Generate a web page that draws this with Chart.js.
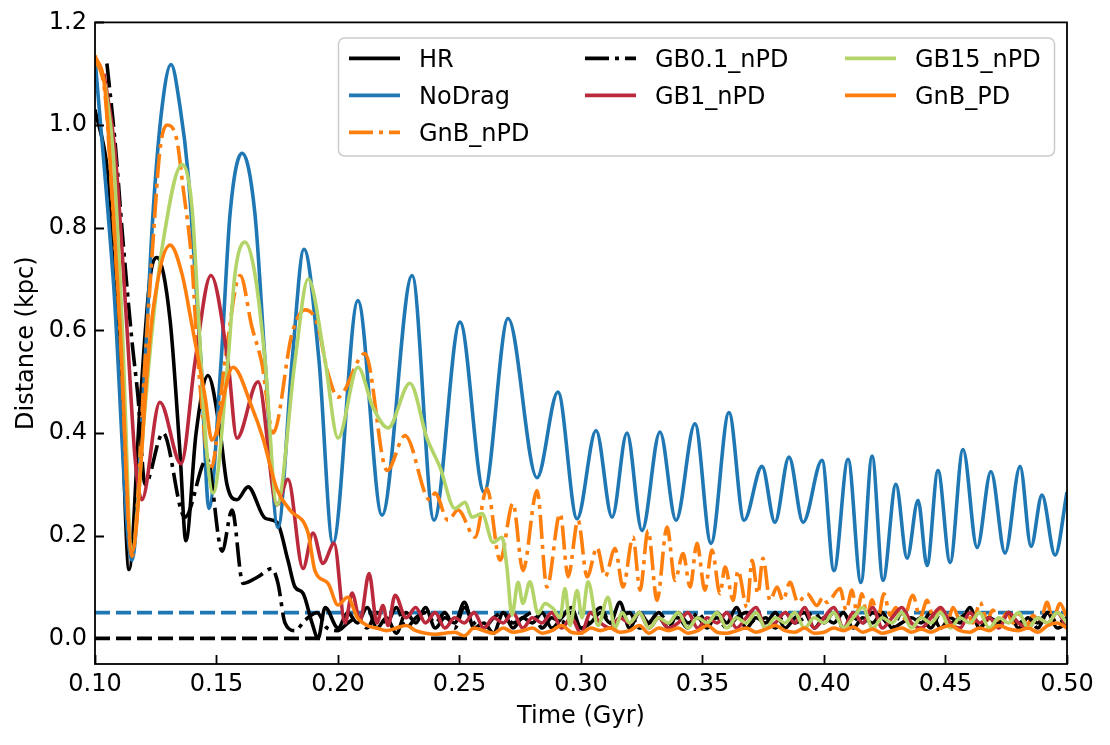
<!DOCTYPE html>
<html><head><meta charset="utf-8">
<script src="https://cdn.jsdelivr.net/npm/chart.js@4.4.0/dist/chart.umd.min.js"></script>
<style>html,body{margin:0;padding:0;background:#fff;}canvas{display:block;}</style>
</head><body>
<canvas id="c" width="1110" height="745"></canvas>
<script>
// ---------------- tick labels ----------------
const xTicks = [0.10, 0.15, 0.20, 0.25, 0.30, 0.35, 0.40, 0.45, 0.50];
const yTicks = [0.0, 0.2, 0.4, 0.6, 0.8, 1.0, 1.2];

// ---------------- series (time in Gyr, distance in kpc) ----------------
const noDragT = [0.1000, 0.1075, 0.1152, 0.1206, 0.1239, 0.1276, 0.1313, 0.1350, 0.1383, 0.1412,
  0.1436, 0.1469, 0.1519, 0.1556, 0.1605, 0.1658, 0.1700, 0.1753, 0.1811, 0.1860,
  0.1922, 0.1979, 0.2082, 0.2181, 0.2305, 0.2395, 0.2502, 0.2601, 0.2700, 0.2819,
  0.2905, 0.2984, 0.3062, 0.3128, 0.3189, 0.3251, 0.3325, 0.3391, 0.3469, 0.3535,
  0.3609, 0.3671, 0.3745, 0.3798, 0.3856, 0.3914, 0.3992, 0.4041, 0.4099, 0.4152,
  0.4198, 0.4243, 0.4296, 0.4342, 0.4387, 0.4424, 0.4469, 0.4519, 0.4572, 0.4630,
  0.4687, 0.4745, 0.4807, 0.4852, 0.4897, 0.4951, 0.5000];
const noDragD = [1.13, 0.70, 0.152, 0.54, 0.83, 1.035, 1.118, 1.035, 0.906, 0.71,
  0.54, 0.253, 0.54, 0.828, 0.945, 0.828, 0.54, 0.216, 0.54, 0.758,
  0.54, 0.185, 0.658, 0.24, 0.707, 0.23, 0.616, 0.285, 0.623, 0.313,
  0.48, 0.233, 0.405, 0.236, 0.40, 0.21, 0.402, 0.23, 0.418, 0.185,
  0.44, 0.23, 0.335, 0.226, 0.353, 0.226, 0.347, 0.132, 0.349, 0.109,
  0.355, 0.113, 0.30, 0.156, 0.269, 0.142, 0.327, 0.148, 0.368, 0.177,
  0.325, 0.166, 0.335, 0.179, 0.279, 0.162, 0.285];

const hrT = [0.1000, 0.1053, 0.1074, 0.1103, 0.1140, 0.1185, 0.1226, 0.1255, 0.1309, 0.1350,
  0.1374, 0.1416, 0.1465, 0.1514, 0.1543, 0.1584, 0.1630, 0.1700, 0.1749, 0.1794,
  0.1823, 0.1856, 0.1893, 0.1918, 0.1947];
const hrD = [1.03, 0.906, 0.775, 0.54, 0.134, 0.45, 0.70, 0.742, 0.62, 0.36,
  0.19, 0.40, 0.512, 0.405, 0.30, 0.27, 0.295, 0.234, 0.226, 0.152,
  0.10, 0.088, 0.03, 0.0, 0.06];

const gb01T = [0.1049, 0.1082, 0.1115, 0.1152, 0.1177, 0.1206, 0.1280, 0.1370, 0.1461, 0.1523,
  0.1564, 0.1609, 0.1671, 0.1728, 0.1753, 0.1782, 0.1823, 0.1864, 0.1914, 0.1955];
const gb01D = [1.12, 0.97, 0.775, 0.58, 0.47, 0.30, 0.40, 0.236, 0.35, 0.17,
  0.25, 0.107, 0.12, 0.136, 0.107, 0.03, 0.015, 0.035, 0.05, 0.02];

const gb1T = [0.1037, 0.1082, 0.1132, 0.1165, 0.1193, 0.1267, 0.1354, 0.1412, 0.1477, 0.1547,
  0.1584, 0.1671, 0.1749, 0.1794, 0.1856, 0.1897, 0.1938, 0.1984, 0.2029, 0.2058,
  0.2091, 0.2128, 0.2160, 0.2185, 0.2206, 0.2235];
const gb1D = [1.10, 0.95, 0.60, 0.35, 0.27, 0.46, 0.34, 0.54, 0.707, 0.54,
  0.39, 0.50, 0.26, 0.31, 0.136, 0.205, 0.146, 0.185, 0.03, 0.088,
  0.035, 0.126, 0.03, 0.064, 0.025, 0.084];

const gb15T = [0.1041, 0.1074, 0.1111, 0.1152, 0.1206, 0.1235, 0.1276, 0.1358, 0.1399, 0.1424,
  0.1453, 0.1486, 0.1547, 0.1576, 0.1617, 0.1658, 0.1700, 0.1749, 0.1823, 0.1877,
  0.1947, 0.2000, 0.2082, 0.2144, 0.2206, 0.2296, 0.2366, 0.2420, 0.2481, 0.2523,
  0.2551, 0.2593, 0.2638, 0.2675, 0.2695, 0.2716, 0.2741, 0.2761, 0.2790, 0.2823,
  0.2852, 0.2885, 0.2914, 0.2934, 0.2955, 0.2984, 0.3004, 0.3029, 0.3070, 0.3111,
  0.3140, 0.3169];
const gb15D = [1.08, 0.95, 0.62, 0.17, 0.45, 0.60, 0.76, 0.923, 0.84, 0.645,
  0.405, 0.283, 0.54, 0.71, 0.772, 0.71, 0.54, 0.26, 0.54, 0.70,
  0.54, 0.39, 0.528, 0.45, 0.41, 0.497, 0.39, 0.333, 0.253, 0.265,
  0.236, 0.243, 0.187, 0.197, 0.139, 0.045, 0.109, 0.068, 0.11, 0.048,
  0.068, 0.058, 0.04, 0.097, 0.025, 0.093, 0.04, 0.11, 0.025, 0.08,
  0.02, 0.05];

const gnbPdT = [0.1000, 0.1041, 0.1074, 0.1103, 0.1152, 0.1218, 0.1239, 0.1309, 0.1358, 0.1399,
  0.1453, 0.1481, 0.1568, 0.1646, 0.1691, 0.1749, 0.1802, 0.1877, 0.1905, 0.1959];
const gnbPdD = [1.136, 1.07, 0.84, 0.61, 0.168, 0.54, 0.64, 0.766, 0.71, 0.61,
  0.47, 0.386, 0.528, 0.45, 0.39, 0.29, 0.25, 0.205, 0.132, 0.107];

const gnbNpdT = [0.1000, 0.1041, 0.1074, 0.1103, 0.1152, 0.1206, 0.1239, 0.1267, 0.1296, 0.1337,
  0.1362, 0.1399, 0.1424, 0.1477, 0.1535, 0.1597, 0.1646, 0.1687, 0.1733, 0.1811,
  0.1864, 0.1914, 0.1959, 0.2000, 0.2111, 0.2202, 0.2276, 0.2379, 0.2399, 0.2453,
  0.2494, 0.2564, 0.2613, 0.2667, 0.2720, 0.2761, 0.2819, 0.2860, 0.2914, 0.2947,
  0.2988, 0.3025, 0.3066, 0.3099, 0.3140, 0.3173, 0.3214, 0.3243, 0.3276, 0.3313,
  0.3354, 0.3387, 0.3420, 0.3449, 0.3477, 0.3510, 0.3539, 0.3572, 0.3593, 0.3626,
  0.3646, 0.3683, 0.3704, 0.3728, 0.3749, 0.3778, 0.3807, 0.3831, 0.3860, 0.3893,
  0.3930, 0.3971, 0.3996, 0.4012, 0.4066, 0.4091, 0.4115, 0.4136, 0.4156, 0.4177,
  0.4198, 0.4222, 0.4247, 0.4272, 0.4296, 0.4325, 0.4366, 0.4395, 0.4424, 0.4453,
  0.4477, 0.4506, 0.4531, 0.4560, 0.4588, 0.4613, 0.4642, 0.4671, 0.4695, 0.4724,
  0.4753, 0.4778, 0.4807, 0.4835, 0.4860, 0.4889, 0.4918, 0.4942, 0.4971, 0.5000];
const gnbNpdD = [1.13, 1.06, 0.83, 0.60, 0.16, 0.54, 0.775, 0.95, 1.0, 0.97,
  0.88, 0.73, 0.54, 0.33, 0.54, 0.707, 0.606, 0.535, 0.40, 0.594,
  0.64, 0.614, 0.516, 0.47, 0.555, 0.327, 0.395, 0.269, 0.283, 0.23,
  0.25, 0.197, 0.292, 0.152, 0.263, 0.132, 0.288, 0.10, 0.243, 0.12,
  0.23, 0.12, 0.177, 0.12, 0.175, 0.10, 0.197, 0.094, 0.21, 0.074,
  0.217, 0.113, 0.165, 0.10, 0.185, 0.094, 0.172, 0.087, 0.139, 0.074,
  0.132, 0.06, 0.152, 0.087, 0.156, 0.074, 0.10, 0.074, 0.109, 0.07,
  0.087, 0.064, 0.08, 0.07, 0.097, 0.055, 0.094, 0.05, 0.087, 0.045,
  0.075, 0.04, 0.087, 0.045, 0.06, 0.035, 0.084, 0.04, 0.074, 0.035,
  0.06, 0.03, 0.06, 0.035, 0.05, 0.03, 0.07, 0.035, 0.055, 0.03,
  0.05, 0.03, 0.048, 0.025, 0.045, 0.03, 0.07, 0.035, 0.068, 0.04];

// shared time grid for the settled (noisy) tails
const tailT = [0.200, 0.204, 0.208, 0.212, 0.216, 0.220, 0.224, 0.228, 0.232, 0.236,
  0.240, 0.244, 0.248, 0.252, 0.256, 0.260, 0.264, 0.268, 0.272, 0.276,
  0.280, 0.284, 0.288, 0.292, 0.296, 0.300, 0.304, 0.308, 0.312, 0.316,
  0.320, 0.324, 0.328, 0.332, 0.336, 0.340, 0.344, 0.348, 0.352, 0.356,
  0.360, 0.364, 0.368, 0.372, 0.376, 0.380, 0.384, 0.388, 0.392, 0.396,
  0.400, 0.404, 0.408, 0.412, 0.416, 0.420, 0.424, 0.428, 0.432, 0.436,
  0.440, 0.444, 0.448, 0.452, 0.456, 0.460, 0.464, 0.468, 0.472, 0.476,
  0.480, 0.484, 0.488, 0.492, 0.496, 0.500];
const hrTail = [0.02, 0.05, 0.03, 0.06, 0.02, 0.04, 0.01, 0.05, 0.03, 0.06,
  0.02, 0.04, 0.03, 0.07, 0.02, 0.03, 0.01, 0.05, 0.02, 0.04,
  0.03, 0.05, 0.02, 0.04, 0.06, 0.02, 0.03, 0.05, 0.03, 0.07,
  0.02, 0.05, 0.03, 0.04, 0.02, 0.05, 0.03, 0.04, 0.02, 0.05,
  0.03, 0.06, 0.02, 0.04, 0.03, 0.05, 0.02, 0.04, 0.05, 0.02,
  0.04, 0.03, 0.05, 0.02, 0.04, 0.03, 0.05, 0.02, 0.03, 0.04,
  0.03, 0.05, 0.02, 0.04, 0.03, 0.06, 0.02, 0.04, 0.03, 0.05,
  0.02, 0.04, 0.03, 0.05, 0.02, 0.03];
const gb01Tail = [0.015, 0.03, 0.04, 0.02, 0.05, 0.03, 0.06, 0.02, 0.04, 0.05,
  0.03, 0.05, 0.02, 0.06, 0.03, 0.02, 0.04, 0.05, 0.03, 0.04,
  0.05, 0.02, 0.04, 0.03, 0.05, 0.02, 0.04, 0.06, 0.03, 0.04,
  0.05, 0.02, 0.03, 0.05, 0.03, 0.04, 0.02, 0.05, 0.03, 0.04,
  0.02, 0.04, 0.05, 0.03, 0.04, 0.02, 0.05, 0.03, 0.04, 0.05,
  0.03, 0.05, 0.02, 0.04, 0.03, 0.05, 0.04, 0.02, 0.05, 0.03,
  0.04, 0.02, 0.05, 0.03, 0.04, 0.05, 0.02, 0.04, 0.03, 0.05,
  0.03, 0.04, 0.02, 0.05, 0.03, 0.04];
const gb1Tail = [null, null, null, null, null, null, null, 0.04, 0.06, 0.03,
  0.05, 0.02, 0.04, 0.03, 0.05, 0.02, 0.04, 0.03, 0.05, 0.02,
  0.04, 0.03, 0.05, 0.02, 0.04, 0.01, 0.05, 0.03, 0.02, 0.04,
  0.03, 0.05, 0.02, 0.04, 0.02, 0.03, 0.05, 0.02, 0.04, 0.03,
  0.05, 0.02, 0.04, 0.06, 0.02, 0.03, 0.05, 0.03, 0.06, 0.02,
  0.04, 0.06, 0.02, 0.05, 0.03, 0.06, 0.02, 0.04, 0.06, 0.03,
  0.02, 0.04, 0.06, 0.03, 0.02, 0.05, 0.03, 0.04, 0.02, 0.05,
  0.03, 0.02, 0.04, 0.03, 0.05, 0.02];
const gb15Tail = [null, null, null, null, null, null, null, null, null, null,
  null, null, null, null, null, null, null, null, null, null,
  null, null, null, null, null, null, null, null, null, null,
  0.03, 0.05, 0.02, 0.04, 0.03, 0.05, 0.02, 0.04, 0.03, 0.05,
  0.02, 0.04, 0.03, 0.05, 0.02, 0.04, 0.03, 0.05, 0.02, 0.04,
  0.03, 0.05, 0.02, 0.04, 0.06, 0.02, 0.04, 0.03, 0.05, 0.02,
  0.04, 0.03, 0.05, 0.02, 0.04, 0.03, 0.05, 0.02, 0.04, 0.03,
  0.05, 0.02, 0.04, 0.03, 0.05, 0.03];
const gnbPdTail = [0.065, 0.08, 0.04, 0.025, 0.02, 0.015, 0.02, 0.025, 0.015, 0.01,
  0.008, 0.01, 0.012, 0.005, 0.02, 0.015, 0.01, 0.02, 0.012, 0.015,
  0.02, 0.01, 0.015, 0.025, 0.012, 0.01, 0.02, 0.015, 0.02, 0.012,
  0.015, 0.025, 0.01, 0.02, 0.015, 0.02, 0.01, 0.015, 0.025, 0.012,
  0.01, 0.015, 0.02, 0.012, 0.018, 0.025, 0.015, 0.012, 0.02, 0.01,
  0.012, 0.02, 0.015, 0.022, 0.012, 0.018, 0.01, 0.015, 0.02, 0.012,
  0.018, 0.012, 0.02, 0.025, 0.015, 0.012, 0.02, 0.015, 0.025, 0.018,
  0.015, 0.02, 0.012, 0.025, 0.03, 0.02];

// reference levels
const refT = [0.10, 0.50];
const refBlue = [0.05, 0.05];
const refBlack = [0.0, 0.0];

// legend layout (column-major, like the figure)
const legendColumns = [['HR', 'NoDrag', 'GnB_nPD'], ['GB0.1_nPD', 'GB1_nPD'], ['GB15_nPD', 'GnB_PD']];

// ---------------- helpers ----------------
function pts(T, D) {
  const n = Math.min(T.length, D.length);
  const out = [];
  for (let i = 0; i < n; i++) if (D[i] !== null) out.push({x: T[i], y: D[i]});
  return out;
}
function withTail(T, D, tail) { return pts(T, D).concat(pts(tailT, tail)); }

const DASHDOT = [24, 6, 4, 6];
const DASHED = [15, 6];
const LW = 3.6;
const FS = 24;
const FAMILY = "'DejaVu Sans', 'Liberation Sans', sans-serif";

const series = [
  {label: 'HR', data: withTail(hrT, hrD, hrTail), color: '#000000', dash: [], order: 6},
  {label: 'NoDrag', data: pts(noDragT, noDragD), color: '#1f77b4', dash: [], order: 5},
  {label: 'GnB_nPD', data: pts(gnbNpdT, gnbNpdD), color: '#ff7f0e', dash: DASHDOT, order: 4},
  {label: 'GB0.1_nPD', data: withTail(gb01T, gb01D, gb01Tail), color: '#000000', dash: DASHDOT, order: 3},
  {label: 'GB1_nPD', data: withTail(gb1T, gb1D, gb1Tail), color: '#bb2a3c', dash: [], order: 2},
  {label: 'GB15_nPD', data: withTail(gb15T, gb15D, gb15Tail), color: '#b3d468', dash: [], order: 1},
  {label: 'GnB_PD', data: withTail(gnbPdT, gnbPdD, gnbPdTail), color: '#ff7f0e', dash: [], order: 0}
];

const datasets = series.map(s => ({
  label: s.label, data: s.data, borderColor: s.color, backgroundColor: s.color,
  borderDash: s.dash, borderWidth: LW, order: s.order, fill: false,
  cubicInterpolationMode: 'monotone', borderJoinStyle: 'round', pointRadius: 0
}));
datasets.push({label: 'ref005', data: pts(refT, refBlue), borderColor: '#1f77b4', borderDash: DASHED,
  borderWidth: LW, order: 20, pointRadius: 0, fill: false});
datasets.push({label: 'ref0', data: pts(refT, refBlack), borderColor: '#000000', borderDash: DASHED,
  borderWidth: LW, order: 21, pointRadius: 0, fill: false});

const styleByLabel = {};
series.forEach(s => { styleByLabel[s.label] = s; });

const decor = {
  id: 'decor',
  afterDatasetsDraw(chart) {
    const {ctx, chartArea: a, scales: {x, y}} = chart;
    ctx.save();
    // legend
    const bx = a.left + 243, by = a.top + 15, bw = 716, bh = 118;
    ctx.beginPath();
    ctx.roundRect(bx + 0.5, by + 0.5, bw, bh, 6);
    ctx.fillStyle = 'rgba(255,255,255,0.8)';
    ctx.fill();
    ctx.strokeStyle = '#cccccc';
    ctx.lineWidth = 1.5;
    ctx.stroke();
    const colX = [a.left + 254, a.left + 490, a.left + 750];
    const rowY = [a.top + 36, a.top + 73, a.top + 110];
    ctx.font = FS + 'px ' + FAMILY;
    ctx.textBaseline = 'alphabetic';
    ctx.textAlign = 'left';
    legendColumns.forEach((col, ci) => {
      col.forEach((lab, ri) => {
        const s = styleByLabel[lab];
        const yy = rowY[ri];
        ctx.beginPath();
        ctx.setLineDash(s.dash);
        ctx.lineCap = 'butt';
        ctx.strokeStyle = s.color;
        ctx.lineWidth = LW;
        ctx.moveTo(colX[ci], yy);
        ctx.lineTo(colX[ci] + 51, yy);
        ctx.stroke();
        ctx.setLineDash([]);
        ctx.fillStyle = '#000';
        ctx.fillText(lab, colX[ci] + 70, yy + 9);
      });
    });
    // spines
    ctx.setLineDash([]);
    ctx.strokeStyle = '#000';
    ctx.lineWidth = 1.8;
    ctx.strokeRect(a.left, a.top, a.right - a.left, a.bottom - a.top);
    // inward ticks
    ctx.beginPath();
    xTicks.forEach(v => {
      const px = Math.round(x.getPixelForValue(v)) + 0.5;
      ctx.moveTo(px, a.bottom); ctx.lineTo(px, a.bottom - 9);
    });
    yTicks.forEach(v => {
      const py = Math.round(y.getPixelForValue(v)) + 0.5;
      ctx.moveTo(a.left, py); ctx.lineTo(a.left + 9, py);
    });
    ctx.stroke();
    ctx.restore();
  }
};

new Chart(document.getElementById('c'), {
  type: 'line',
  data: {datasets},
  options: {
    responsive: false, animation: false, devicePixelRatio: 1,
    layout: {padding: {top: 22, right: 43, left: 0, bottom: 0}},
    plugins: {legend: {display: false}, tooltip: {enabled: false}},
    elements: {point: {radius: 0}},
    scales: {
      x: {
        type: 'linear', min: 0.10, max: 0.50,
        afterBuildTicks: s => { s.ticks = xTicks.map(v => ({value: v})); },
        afterFit: s => { s.height = 81; },
        grid: {display: false, drawTicks: false},
        border: {display: false},
        ticks: {callback: v => Number(v).toFixed(2), color: '#000', font: {family: FAMILY, size: FS},
          padding: 6, maxRotation: 0, autoSkip: false},
        title: {display: true, text: 'Time (Gyr)', color: '#000', font: {family: FAMILY, size: FS},
          padding: {top: 0, bottom: 14}}
      },
      y: {
        type: 'linear', min: -0.05, max: 1.2,
        afterBuildTicks: s => { s.ticks = yTicks.map(v => ({value: v})); },
        afterFit: s => { s.width = 95; },
        grid: {display: false, drawTicks: false},
        border: {display: false},
        ticks: {callback: v => Number(v).toFixed(1), color: '#000', font: {family: FAMILY, size: FS},
          padding: 8, autoSkip: false},
        title: {display: true, text: 'Distance (kpc)', color: '#000', font: {family: FAMILY, size: FS},
          padding: {top: 12, bottom: 0}}
      }
    }
  },
  plugins: [decor]
});
</script>
</body></html>
